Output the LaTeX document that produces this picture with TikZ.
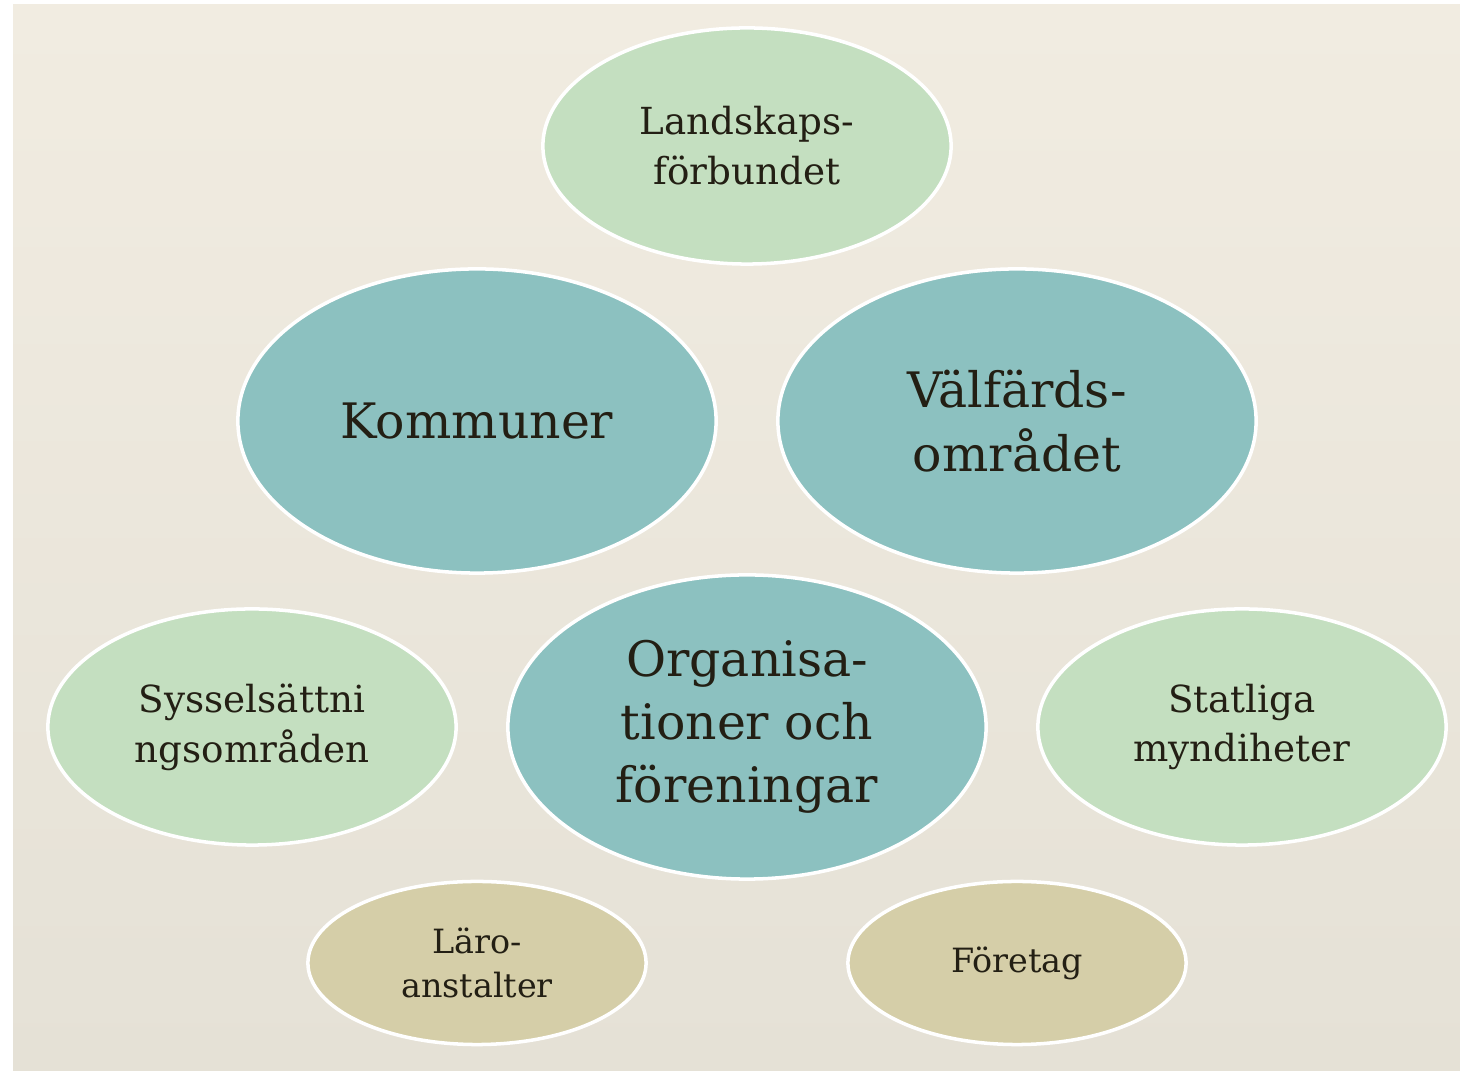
\documentclass[tikz,border=0pt]{standalone}
\usepackage{fontspec}
\setmainfont{DejaVu Serif}
\usetikzlibrary{shapes.geometric}
\definecolor{paper}{RGB}{241, 236, 225}
\definecolor{paperdark}{RGB}{229, 225, 214}
\definecolor{sage}{RGB}{196, 223, 192}
\definecolor{teal}{RGB}{140, 193, 192}
\definecolor{khaki}{RGB}{213, 206, 168}
\definecolor{ink}{RGB}{35, 31, 20}

\begin{document}
\begin{tikzpicture}[x=0.01cm, y=-0.01cm,
    blob/.style={ellipse, draw=white, line width=1pt, inner sep=0pt, align=center, text=ink},
    bigblob/.style={blob, fill=teal,  minimum width=4.78cm, minimum height=3.04cm, font=\fontsize{13.9}{18}\selectfont},
    midblob/.style={blob, fill=sage,  minimum width=4.08cm, minimum height=2.36cm, font=\fontsize{10.6}{14.2}\selectfont},
    lowblob/.style={blob, fill=khaki, minimum width=3.38cm, minimum height=1.63cm, font=\fontsize{9.5}{12.5}\selectfont}]
            \fill[white]                                          (0, 0) rectangle (1460, 1071);
            \shade[top color=paper, bottom color=paperdark]       (13, 5) rectangle (1460, 1071);
            \node[midblob] (forbund)  at ( 747, 146) {Landskaps-\\förbundet};
            \node[bigblob] (kommuner) at ( 477, 421) {Kommuner};
            \node[bigblob] (valfard)  at (1017, 421) {Välfärds-\\området};
            \node[midblob] (syssel)   at ( 252, 727) {Sysselsättni\\ngsområden};
            \node[bigblob] (foren)    at ( 747, 727) {Organisa-\\tioner och\\föreningar};
            \node[midblob] (statliga) at (1242, 727) {Statliga\\myndiheter};
            \node[lowblob] (laro)     at ( 477, 963) {Läro-\\anstalter};
            \node[lowblob] (foretag)  at (1017, 963) {Företag};
        \useasboundingbox (0, 0) rectangle (1460, 1071);
        \end{tikzpicture}
\end{document}
